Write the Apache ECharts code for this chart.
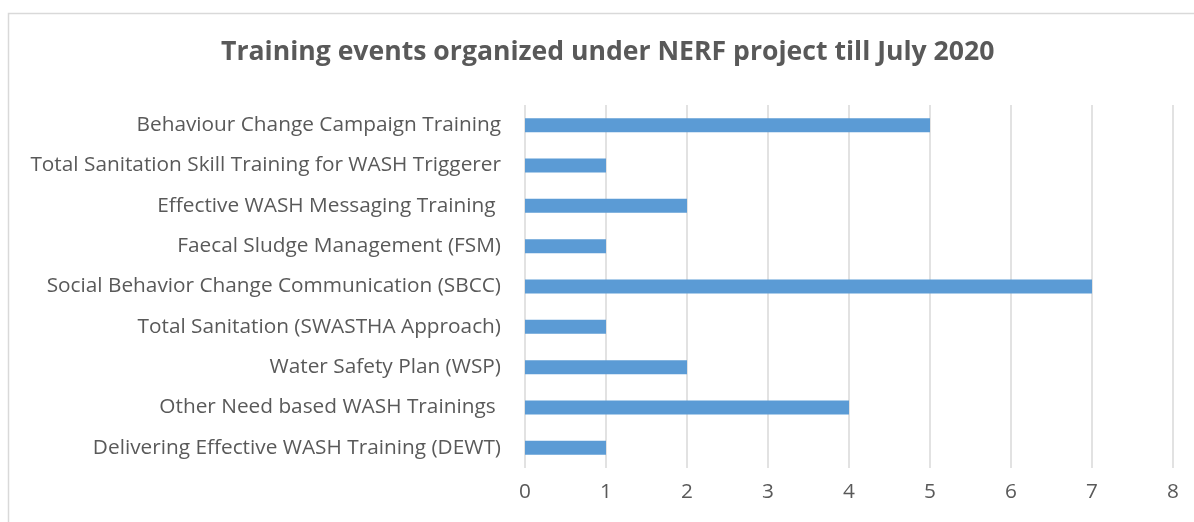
<!DOCTYPE html>
<html>
<head>
<meta charset="utf-8">
<script src="https://cdn.jsdelivr.net/npm/echarts@6/dist/echarts.min.js"></script>
<style>
html, body { margin: 0; padding: 0; background: #fff; }
#chart { width: 1194px; height: 522px; }
</style>
</head>
<body>
<div id="chart"></div>
<script>
var categories = [
    'Behaviour Change Campaign Training',
    'Total Sanitation Skill Training for WASH Triggerer',
    'Effective WASH Messaging Training ',
    'Faecal Sludge Management (FSM)',
    'Social Behavior Change Communication (SBCC)',
    'Total Sanitation (SWASTHA Approach)',
    'Water Safety Plan (WSP)',
    'Other Need based WASH Trainings ',
    'Delivering Effective WASH Training (DEWT)'
];
var trainingEvents = [5, 1, 2, 1, 7, 1, 2, 4, 1];

var font = 'Open Sans';
var myChart = echarts.init(document.getElementById('chart'));
myChart.setOption({
    animation: false,
    title: {
        text: 'Training events organized under NERF project till July 2020',
        left: 216,
        top: 34,
        textStyle: {
            color: '#595959',
            fontSize: 26.6,
            fontWeight: 'bold',
            fontFamily: font
        }
    },
    graphic: [{
        type: 'rect',
        shape: { x: 8.5, y: 13.5, width: 1200, height: 520 },
        style: { fill: 'none', stroke: '#d9d9d9', lineWidth: 1.5 },
        silent: true
    }],
    grid: {
        left: 525,
        right: 21,
        top: 105,
        bottom: 54
    },
    xAxis: {
        type: 'value',
        min: 0,
        max: 8,
        interval: 1,
        axisLine: { show: false },
        axisTick: { show: false },
        axisLabel: {
            color: '#595959',
            fontSize: 20.8,
            fontFamily: font,
            margin: 14
        },
        splitLine: {
            show: true,
            lineStyle: { color: '#d9d9d9', width: 1.5 }
        }
    },
    yAxis: {
        type: 'category',
        inverse: true,
        data: categories,
        axisLine: { show: false },
        axisTick: { show: false },
        axisLabel: {
            color: '#595959',
            fontSize: 20.8,
            fontFamily: font,
            margin: 24
        }
    },
    series: [{
        type: 'bar',
        data: trainingEvents,
        barWidth: 14,
        itemStyle: { color: '#5b9bd5' }
    }]
});
</script>
</body>
</html>
